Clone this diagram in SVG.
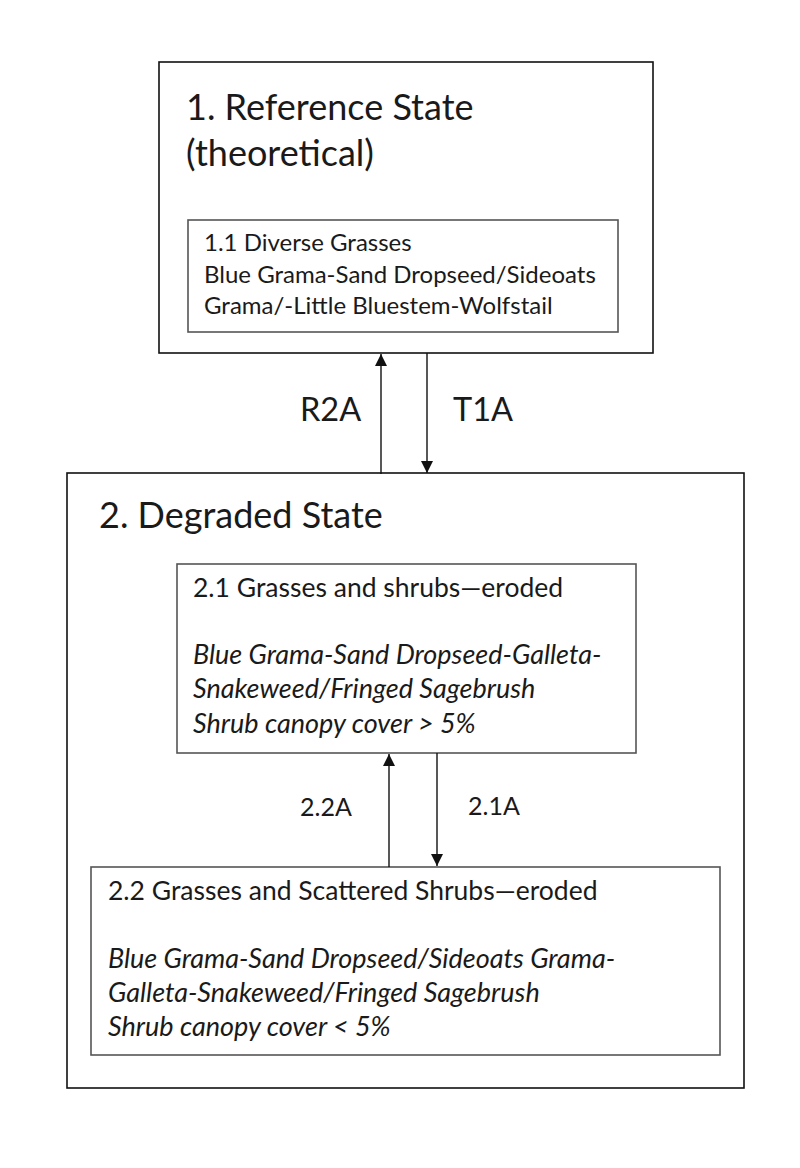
<svg xmlns="http://www.w3.org/2000/svg" width="800" height="1168" viewBox="0 0 800 1168">
<style>
.outer{fill:none;stroke:#111;stroke-width:1.6}
.inner{fill:#fff;stroke:#555;stroke-width:1.6}
text{font-family:Lato,"Open Sans",sans-serif;fill:#1a1a1a}
.title{font-size:36px}
.lbl{font-size:32.5px}
.body{font-size:24px}
.head{font-size:26.5px}
.it{font-size:27px;font-style:italic}
.small{font-size:25px}
.conn{stroke:#111;stroke-width:1.4;fill:none}
</style>
<defs>
<marker id="ah" viewBox="0 0 10 10" refX="10" refY="5" markerWidth="12" markerHeight="12" markerUnits="userSpaceOnUse" orient="auto">
<path d="M0,0 L10,5 L0,10 z" fill="#111"/>
</marker>
</defs>
<rect width="800" height="1168" fill="#fff"/>
<g id="state1">
<rect class="outer" x="159" y="62" width="494" height="291"/>
<text class="title" x="186" y="120">1. Reference State</text>
<text class="title" x="186" y="166">(theoretical)</text>
</g>
<g id="comm11">
<rect class="inner" x="188" y="220" width="430" height="112"/>
<text class="body" x="204" y="251">1.1 Diverse Grasses</text>
<text class="body" x="204" y="283">Blue Grama-Sand Dropseed/Sideoats</text>
<text class="body" x="204" y="314">Grama/-Little Bluestem-Wolfstail</text>
</g>
<g id="state2">
<rect class="outer" x="67" y="473" width="677" height="615"/>
<text class="title" x="99" y="528">2. Degraded State</text>
</g>
<g id="comm21">
<rect class="inner" x="177" y="564" width="459" height="189"/>
<text class="head" x="193" y="597">2.1 Grasses and shrubs—eroded</text>
<text class="it" x="193" y="664">Blue Grama-Sand Dropseed-Galleta-</text>
<text class="it" x="193" y="698">Snakeweed/Fringed Sagebrush</text>
<text class="it" x="193" y="733">Shrub canopy cover &gt; 5%</text>
</g>
<g id="comm22">
<rect class="inner" x="91" y="867" width="629" height="188"/>
<text class="head" x="108" y="900">2.2 Grasses and Scattered Shrubs—eroded</text>
<text class="it" x="108" y="968">Blue Grama-Sand Dropseed/Sideoats Grama-</text>
<text class="it" x="108" y="1002">Galleta-Snakeweed/Fringed Sagebrush</text>
<text class="it" x="108" y="1036">Shrub canopy cover &lt; 5%</text>
</g>
<g id="connectors">
<line class="conn" x1="381" y1="474" x2="381" y2="354" marker-end="url(#ah)"/>
<line class="conn" x1="427" y1="353" x2="427" y2="473" marker-end="url(#ah)"/>
<line class="conn" x1="389" y1="867" x2="389" y2="754" marker-end="url(#ah)"/>
<line class="conn" x1="437" y1="753" x2="437" y2="866" marker-end="url(#ah)"/>
<text class="lbl" x="300" y="421">R2A</text>
<text class="lbl" x="453" y="421">T1A</text>
<text class="small" x="300" y="816">2.2A</text>
<text class="small" x="468" y="815">2.1A</text>
</g>
</svg>
